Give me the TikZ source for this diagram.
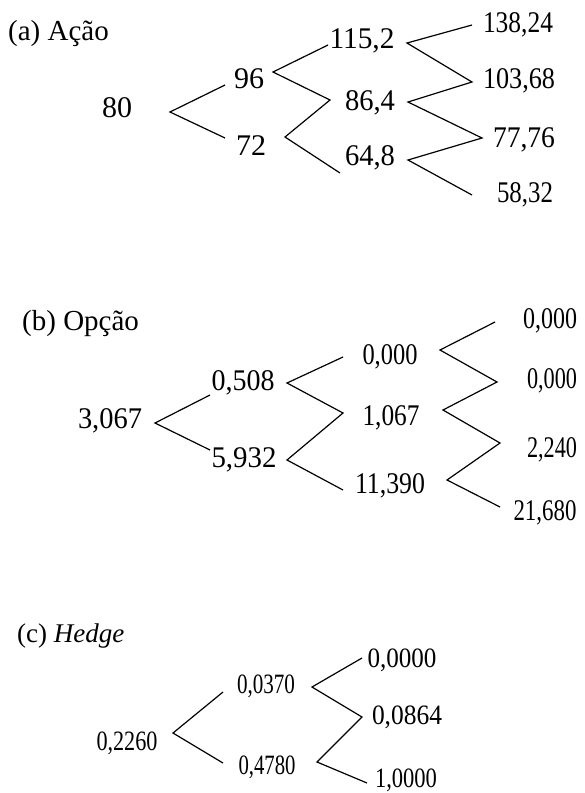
\documentclass[tikz,border=0pt]{standalone}
\usepackage{fontspec}
\setmainfont{Liberation Serif}
\usepackage{graphicx}
\newcommand{\fw}[2]{\resizebox{#1pt}{\height}{#2}}
\begin{document}
\begin{tikzpicture}[x=1pt,y=-1pt,
  num/.style={anchor=base,inner sep=0pt,font=\fontsize{30}{33}\selectfont},
  numc/.style={anchor=base,inner sep=0pt,font=\fontsize{28}{31}\selectfont},
  ttl/.style={anchor=base west,inner sep=0pt,font=\fontsize{29}{32}\selectfont},
  ttlc/.style={anchor=base west,inner sep=0pt,font=\fontsize{27}{30}\selectfont},
  br/.style={line width=1.2pt,line join=miter}]
\useasboundingbox (0,0) rectangle (585,793);

% ---------- (a) ----------
\node[ttl] (ta) at (8,40) {(a) Ação};
\node[num] (a0) at (117,117) {80};
\node[num] (a1u) at (249,88) {96};
\node[num] (a1d) at (251,155) {72};
\node[num] (a2u) at (362,48) {\fw{65}{115,2}};
\node[num] (a2m) at (370,110) {\fw{50}{86,4}};
\node[num] (a2d) at (370,165) {\fw{50}{64,8}};
\node[num] (a3a) at (518,32) {\fw{70}{138,24}};
\node[num] (a3b) at (519,88) {\fw{72}{103,68}};
\node[num] (a3c) at (524,147) {\fw{62}{77,76}};
\node[num] (a3d) at (525,202) {\fw{56}{58,32}};

\coordinate (a0r) at (170,112);
\coordinate (a1ul) at (225,85);
\coordinate (a1dl) at (225,138);
\coordinate (a1ur) at (273,72);
\coordinate (a1dr) at (285,137);
\coordinate (a2ul) at (328,45);
\coordinate (a2ml) at (330,100);
\coordinate (a2dl) at (340,173);
\coordinate (a2ur) at (407,43);
\coordinate (a2mr) at (408,102);
\coordinate (a2dr) at (408,160);
\coordinate (a3al) at (472,25);
\coordinate (a3bl) at (472,82);
\coordinate (a3cl) at (482,138);
\coordinate (a3dl) at (472,195);
\draw[br] (a1ul) -- (a0r) -- (a1dl);
\draw[br] (a2ul) -- (a1ur) -- (a2ml) -- (a1dr) -- (a2dl);
\draw[br] (a3al) -- (a2ur) -- (a3bl) -- (a2mr) -- (a3cl) -- (a2dr) -- (a3dl);

% ---------- (b) ----------
\node[ttl] (tb) at (22,330) {(b) Opção};
\node[num] (b0) at (110,428) {\fw{64}{3,067}};
\node[num] (b1u) at (243,390) {\fw{63}{0,508}};
\node[num] (b1d) at (244,467) {\fw{65}{5,932}};
\node[num] (b2u) at (390,364) {\fw{55}{0,000}};
\node[num] (b2m) at (391,425) {\fw{57}{1,067}};
\node[num] (b2d) at (390,493) {\fw{70}{11,390}};
\node[num] (b3a) at (550,328) {\fw{54}{0,000}};
\node[num] (b3b) at (552,388) {\fw{50}{0,000}};
\node[num] (b3c) at (552,457) {\fw{50}{2,240}};
\node[num] (b3d) at (545,520) {\fw{63}{21,680}};

\coordinate (b0r) at (155,423);
\coordinate (b1ul) at (210,395);
\coordinate (b1dl) at (210,450);
\coordinate (b1ur) at (287,383);
\coordinate (b1dr) at (287,460);
\coordinate (b2ul) at (343,357);
\coordinate (b2ml) at (343,413);
\coordinate (b2dl) at (343,490);
\coordinate (b2ur) at (440,350);
\coordinate (b2mr) at (443,410);
\coordinate (b2dr) at (447,480);
\coordinate (b3al) at (495,322);
\coordinate (b3bl) at (497,382);
\coordinate (b3cl) at (500,443);
\coordinate (b3dl) at (500,507);
\draw[br] (b1ul) -- (b0r) -- (b1dl);
\draw[br] (b2ul) -- (b1ur) -- (b2ml) -- (b1dr) -- (b2dl);
\draw[br] (b3al) -- (b2ur) -- (b3bl) -- (b2mr) -- (b3cl) -- (b2dr) -- (b3dl);

% ---------- (c) ----------
\node[ttlc] (tc) at (17,642) {(c) \textit{Hedge}};
\node[numc] (c0) at (127,750) {\fw{61}{0,2260}};
\node[numc] (c1u) at (266,693) {\fw{58}{0,0370}};
\node[numc] (c1d) at (267,774) {\fw{57}{0,4780}};
\node[numc] (c2a) at (402,667) {\fw{69}{0,0000}};
\node[numc] (c2b) at (407,724) {\fw{70}{0,0864}};
\node[numc] (c2c) at (406,787) {\fw{62}{1,0000}};

\coordinate (c0r) at (173,733);
\coordinate (c1ul) at (223,692);
\coordinate (c1dl) at (223,763);
\coordinate (c1ur) at (312,687);
\coordinate (c1dr) at (317,762);
\coordinate (c2al) at (362,658);
\coordinate (c2bl) at (362,717);
\coordinate (c2cl) at (367,783);
\draw[br] (c1ul) -- (c0r) -- (c1dl);
\draw[br] (c2al) -- (c1ur) -- (c2bl) -- (c1dr) -- (c2cl);
\end{tikzpicture}
\end{document}
